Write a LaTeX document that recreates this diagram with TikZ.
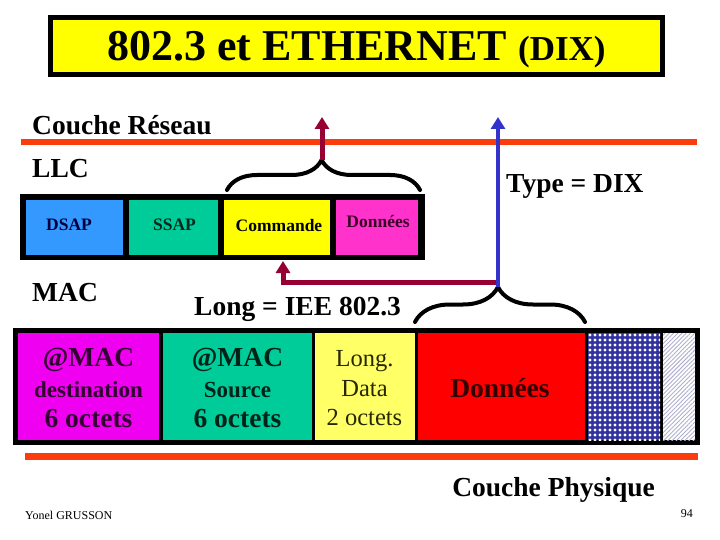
\documentclass[tikz,border=0pt]{standalone}
\usepackage{fontspec}
\setmainfont{Liberation Serif}
\usetikzlibrary{positioning, arrows.meta, decorations.pathreplacing, patterns.meta}

\definecolor{layerred}{RGB}{250,60,15}
\definecolor{dsapblue}{RGB}{51,153,255}
\definecolor{sapgreen}{RGB}{0,204,153}
\definecolor{cmdyellow}{RGB}{255,255,0}
\definecolor{llcpink}{RGB}{255,51,204}
\definecolor{macmagenta}{RGB}{240,0,240}
\definecolor{lenyellow}{RGB}{255,255,102}
\definecolor{datared}{RGB}{255,0,0}
\definecolor{fcsnavy}{RGB}{50,50,160}
\definecolor{hatchgrey}{RGB}{175,175,205}
\definecolor{upmaroon}{RGB}{150,0,50}
\definecolor{dixblue}{RGB}{51,51,204}

\begin{document}
\begin{tikzpicture}[x=1pt, y=-1pt,
  frame/.style={fill=black, inner sep=0, outer sep=0, anchor=north west},
  cellbox/.style={inner sep=0, outer sep=0, anchor=north west},
  lbl/.style={anchor=base west, inner sep=0, font=\fontsize{27.5}{30}\selectfont\bfseries},
  llctext/.style={anchor=base, inner sep=0, font=\fontsize{17.5}{20}\selectfont\bfseries},
  bigtext/.style={anchor=base, inner sep=0, font=\fontsize{27.5}{30}\selectfont\bfseries},
  midtext/.style={anchor=base, inner sep=0, font=\fontsize{23}{26}\selectfont\bfseries},
  lentext/.style={anchor=base, inner sep=0, font=\fontsize{24.5}{27}\selectfont},
  layer/.style={draw=layerred, line width=6.5pt},
  curly/.style={line width=4pt, line cap=round, decorate},
  arr/.style={line width=5pt, -{Triangle[width=14pt,length=12pt]}}]
  \useasboundingbox (0,0) rectangle (720,540);

  % title
  \node[frame, draw=black, line width=5pt, fill=cmdyellow, minimum width=612pt, minimum height=57pt, anchor=center] (titlebox) at (356.5,46) {};
  \node[anchor=base, inner sep=0, font=\fontsize{44}{48}\selectfont\bfseries] (titletxt) at (356.5,61)
    {802.3 et ETHERNET {\fontsize{35}{38}\selectfont(DIX)}};

  % couches
  \node[lbl] (reseau) at (32,135) {Couche Réseau};
  \draw[layer] (21,142) -- (697,142);
  \node[lbl] (llclbl) at (32,178) {LLC};
  \node[lbl] (typedix) at (506,193) {Type = DIX};

  % trame LLC
  \node[frame, minimum width=405pt, minimum height=66pt] (llc) at (20,194) {};
  \node[cellbox, fill=dsapblue, minimum width=97pt, minimum height=55pt] (dsap) at (26,200) {};
  \node[cellbox, fill=sapgreen, minimum width=89pt, minimum height=55pt] (ssap) at (129,200) {};
  \node[cellbox, fill=cmdyellow, minimum width=106pt, minimum height=55pt] (cmd) at (224,200) {};
  \node[cellbox, fill=llcpink, minimum width=82pt, minimum height=55pt] (llcdata) at (336,200) {};
  \node[llctext, text={rgb,255:red,0;green,0;blue,60}] (dsaptxt) at (69,230) {DSAP};
  \node[llctext, text={rgb,255:red,0;green,40;blue,30}] (ssaptxt) at (174.5,230) {SSAP};
  \node[llctext, text=black] (cmdtxt) at (279,232) {Commande};
  \node[llctext, text={rgb,255:red,60;green,0;blue,40}] (llcdatatxt) at (378,228) {Données};

  % MAC
  \node[lbl] (maclbl) at (32,301) {MAC};
  \node[lbl] (longlbl) at (194,315) {Long = IEE 802.3};

  % trame MAC
  \node[frame, minimum width=687pt, minimum height=117pt] (mac) at (13,328) {};
  \node[cellbox, fill=macmagenta, minimum width=141pt, minimum height=107pt] (dst) at (18,333) {};
  \node[cellbox, fill=sapgreen, minimum width=149pt, minimum height=107pt] (src) at (163,333) {};
  \node[cellbox, fill=lenyellow, minimum width=100pt, minimum height=107pt] (len) at (315,333) {};
  \node[cellbox, fill=datared, minimum width=167pt, minimum height=107pt] (data) at (418,333) {};
  \node[cellbox, fill=fcsnavy, minimum width=72pt, minimum height=107pt] (fcs) at (588,333) {};
  \fill[pattern={Dots[distance=5pt, radius=1.6pt]}, pattern color=white] (fcs.north west) rectangle (fcs.south east);
  \node[cellbox, fill=white, minimum width=32pt, minimum height=107pt] (pad) at (663,333) {};
  \fill[pattern={Lines[angle=45, distance=3pt, line width=0.9pt]}, pattern color=hatchgrey] (pad.north west) rectangle (pad.south east);

  \node[bigtext, text={rgb,255:red,50;green,0;blue,50}] (dsta) at (88.5,366) {@MAC};
  \node[midtext, text={rgb,255:red,50;green,0;blue,50}] (dstb) at (88.5,397) {destination};
  \node[bigtext, text={rgb,255:red,50;green,0;blue,50}] (dstc) at (88.5,427) {6 octets};
  \node[bigtext, text={rgb,255:red,0;green,35;blue,25}] (srca) at (237.5,366) {@MAC};
  \node[midtext, text={rgb,255:red,0;green,35;blue,25}] (srcb) at (237.5,397) {Source};
  \node[bigtext, text={rgb,255:red,0;green,35;blue,25}] (srcc) at (237.5,427) {6 octets};
  \node[lentext, text={rgb,255:red,40;green,40;blue,0}] (lena) at (364.5,366) {Long.};
  \node[lentext, text={rgb,255:red,40;green,40;blue,0}] (lenb) at (364.5,396) {Data};
  \node[lentext, text={rgb,255:red,40;green,40;blue,0}] (lenc) at (364.5,425) {2 octets};
  \node[bigtext, text={rgb,255:red,50;green,0;blue,0}] (datatxt) at (500,397) {Données};

  % accolades et fleches
  \draw[curly, decoration={brace, amplitude=30pt, aspect=0.49}] (227,190) -- (420,190);
  \draw[curly, decoration={brace, amplitude=35pt, aspect=0.488}] (415,322) -- (585,322);
  \coordinate (llctip) at (322,160);
  \coordinate (mactip) at (498,287);
  \coordinate (up1) at (322,117);
  \coordinate (up2) at (498,117);
  \coordinate (join) at (496,282);
  \coordinate (cmdin) at (283,261);
  \draw[arr, upmaroon] (join) -| (cmdin);
  \draw[arr, upmaroon] (llctip) -- (up1);
  \draw[arr, dixblue, line width=4pt] (mactip) -- (up2);

  % couche physique
  \draw[layer, line width=7pt] (25,456.5) -- (698,456.5);
  \node[lbl, anchor=base east] (phys) at (655,496) {Couche Physique};
  \node[anchor=base west, inner sep=0, font=\fontsize{12}{14}\selectfont] (author) at (25,519) {Yonel GRUSSON};
  \node[anchor=base east, inner sep=0, font=\fontsize{12}{14}\selectfont] (page) at (693,517) {94};
\end{tikzpicture}
\end{document}
